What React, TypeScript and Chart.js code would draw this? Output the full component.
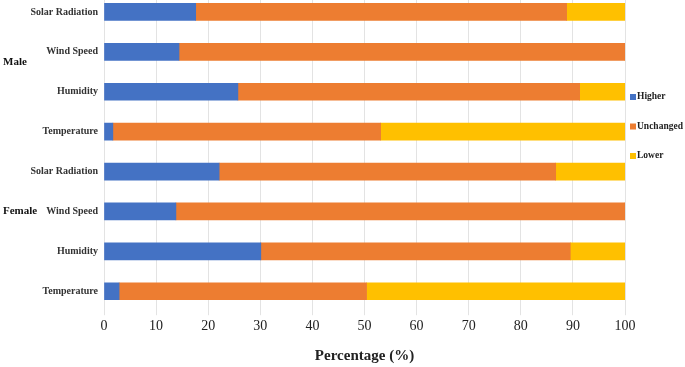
import React, { useEffect, useRef } from "react";
import { Chart, registerables } from "chart.js";

Chart.register(...registerables);

const categories = [
  "Solar Radiation",
  "Wind Speed",
  "Humidity",
  "Temperature",
  "Solar Radiation",
  "Wind Speed",
  "Humidity",
  "Temperature",
];
const groupLabels = ["Male", "Female"];
const groupAnchors = [1.25, 5];
const seriesNames = ["Higher", "Unchanged", "Lower"];
const higher = [17.6, 14.4, 25.7, 1.7, 22.1, 13.8, 30.1, 2.9];
const unchanged = [71.2, 85.6, 65.6, 51.4, 64.6, 86.2, 59.4, 47.5];
const lower = [11.2, 0, 8.7, 46.9, 13.3, 0, 10.5, 49.6];
const xTicks = [0, 10, 20, 30, 40, 50, 60, 70, 80, 90, 100];
const colors = ["#4472C4", "#ED7D31", "#FFC000"];

const FONT = "'Liberation Serif', 'Times New Roman', serif";

const overlayPlugin = {
  id: "overlay",
  afterDraw(chart: any) {
    const ctx = chart.ctx;
    const area = chart.chartArea;
    const y = chart.scales.y;
    ctx.save();
    ctx.font = `bold 11px ${FONT}`;
    ctx.fillStyle = "#111";
    ctx.textAlign = "left";
    ctx.textBaseline = "middle";
    groupLabels.forEach((g, i) => {
      ctx.fillText(g, 3, y.getPixelForValue(groupAnchors[i]));
    });
    ctx.font = `bold 9.5px ${FONT}`;
    const lx = area.right + 5;
    const ly0 = area.top + 105;
    chart.data.datasets.forEach((ds: any, i: number) => {
      const yy = ly0 + i * 29.5;
      ctx.fillStyle = ds.backgroundColor;
      ctx.fillRect(lx, yy - 3, 6, 6);
      ctx.fillStyle = "#222";
      ctx.fillText(ds.label, lx + 7, yy);
    });
    ctx.restore();
  },
};

export default function App() {
  const ref = useRef<HTMLCanvasElement | null>(null);
  useEffect(() => {
    document.body.style.margin = "0";
    const canvas = ref.current!;
    const chart = new Chart(canvas, {
      type: "bar",
      data: {
        labels: categories,
        datasets: [
          { label: seriesNames[0], data: higher, backgroundColor: colors[0] },
          { label: seriesNames[1], data: unchanged, backgroundColor: colors[1] },
          { label: seriesNames[2], data: lower, backgroundColor: colors[2] },
        ],
      },
      options: {
        indexAxis: "y",
        responsive: false,
        animation: false,
        layout: { padding: { left: 0, right: 60, top: 0, bottom: 2 } },
        datasets: { bar: { barThickness: 17, borderWidth: 0 } },
        plugins: {
          legend: { display: false },
          tooltip: { enabled: false },
          title: { display: false },
        },
        scales: {
          x: {
            stacked: true,
            min: 0,
            max: 100,
            afterBuildTicks: (scale: any) => {
              scale.ticks = xTicks.map((v) => ({ value: v }));
            },
            afterFit: (scale: any) => {
              scale.paddingLeft = 0;
              scale.paddingRight = 0;
            },
            grid: { color: "#e3e3e3", tickLength: 4, drawTicks: true },
            border: { display: false },
            ticks: {
              padding: 3,
              color: "#222",
              font: { family: FONT, size: 14 },
            },
            title: {
              display: true,
              text: "Percentage (%)",
              color: "#222",
              font: { family: FONT, size: 15, weight: "bold" },
              padding: { top: 9, bottom: 0 },
            },
          },
          y: {
            stacked: true,
            grid: { display: false, drawTicks: false },
            border: { display: false },
            afterFit: (scale: any) => {
              scale.width = 104;
              scale.paddingTop = 0;
              scale.paddingBottom = 0;
            },
            ticks: {
              padding: 6,
              color: "#333",
              font: { family: FONT, size: 10, weight: "bold" },
            },
          },
        },
      },
      plugins: [overlayPlugin],
    } as any);
    return () => chart.destroy();
  }, []);
  return (
    <div style={{ position: "relative", width: 685, height: 367, overflow: "hidden" }}>
      <canvas
        ref={ref}
        width={685}
        height={375}
        style={{ position: "absolute", left: 0, top: -8, width: 685, height: 375 }}
      />
    </div>
  );
}
